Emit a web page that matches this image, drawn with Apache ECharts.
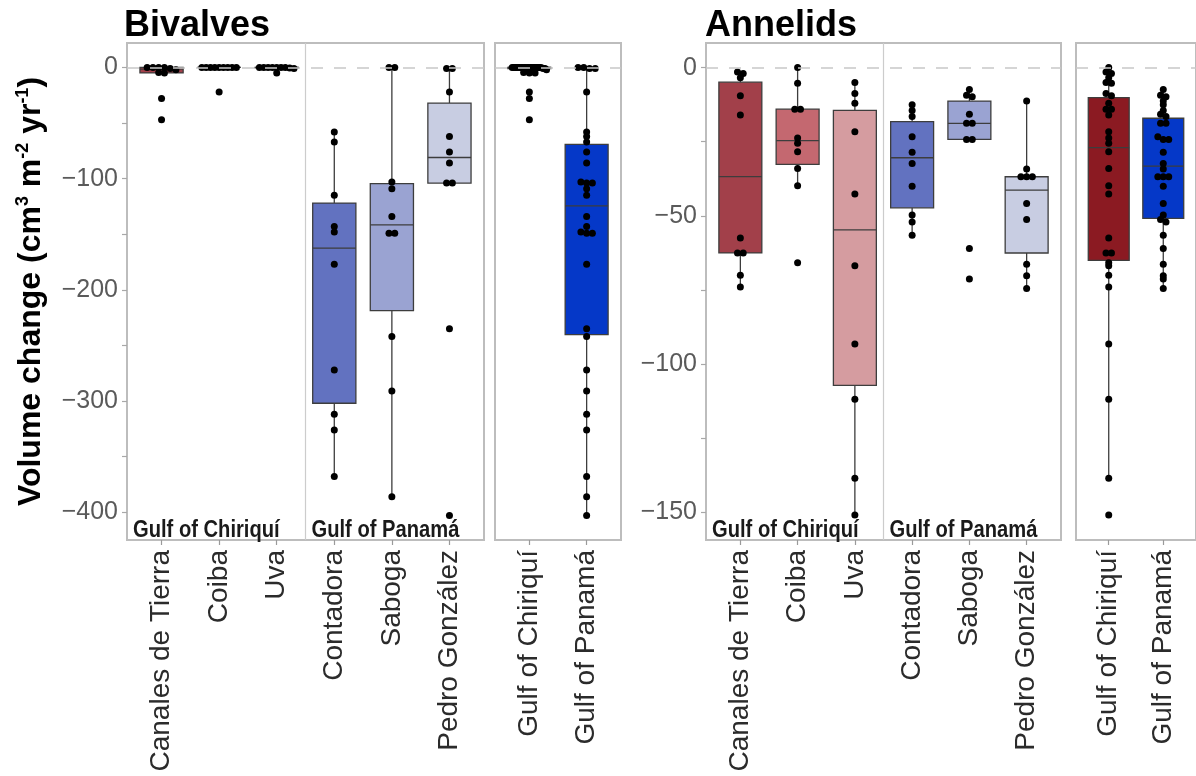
<!DOCTYPE html>
<html>
<head>
<meta charset="utf-8">
<script src="https://cdn.jsdelivr.net/npm/echarts@6/dist/echarts.min.js"></script>
<style>
  html, body { margin: 0; padding: 0; background: #ffffff; }
  #chart { width: 1196px; height: 776px; }
</style>
</head>
<body>
<div id="chart"></div>
<script>
// ---- categories ----
const siteNames = ['Canales de Tierra', 'Coiba', 'Uva', 'Contadora', 'Saboga', 'Pedro González'];
const gulfNames = ['Gulf of Chiriquí', 'Gulf of Panamá'];
const regionLabels = ['Gulf of Chiriquí', 'Gulf of Panamá'];

// ---- bivalve volume change per site (cm3 m-2 yr-1) ----
const bivCanales   = [0, 0, 0, 0, -1, -2, -4.5, -5, -28, -47];
const bivCoiba     = [0, 0, 0, 0, 0, 0, 0, 0, 0, -22];
const bivUva       = [0, 0, 0, 0, 0, 0, 0, -0.5, -1, -5];
const bivContadora = [-58, -67, -115, -143, -148, -177, -272, -312, -326, -368];
const bivSaboga    = [0, 0, -103, -109, -134, -149, -149, -242, -291, -386];
const bivPedro     = [-1, -1, -22, -62, -76, -86, -104, -104, -235, -403];

// ---- annelid volume change per site (cm3 m-2 yr-1) ----
const annCanales   = [-1.5, -2, -3.4, -9.5, -16, -57.5, -62.5, -62.5, -70, -74];
const annCoiba     = [0, -5.3, -14, -14, -23.7, -25.5, -28.4, -34, -39.8, -65.8];
const annUva       = [-5, -8.7, -12, -21.6, -42.6, -66.8, -93.2, -111.8, -138.5, -150.9];
const annContadora = [-12.5, -14.5, -16.5, -23.3, -28.5, -32.3, -40, -49.7, -52.1, -56.5];
const annSaboga    = [-7.4, -9.3, -9.8, -15.7, -18.8, -18.8, -24.2, -24.2, -61, -71.3];
const annPedro     = [-11.3, -34.2, -36.8, -36.8, -36.8, -45.8, -51.2, -66.3, -70.2, -74.5];

// ---- axis ticks and ranges ----
const bivalveTicks = [0, -100, -200, -300, -400];
const bivalveAllTicks = [0, -50, -100, -150, -200, -250, -300, -350, -400];
const bivalveRange = [-425, 22];
const annelidTicks = [0, -50, -100, -150];
const annelidAllTicks = [0, -25, -50, -75, -100, -125, -150];
const annelidRange = [-159.3, 8.3];

// ---- fills ----
const siteColors = ['#a2404a', '#c46870', '#d59ca0', '#6272c0', '#9aa3d2', '#c8cde2'];
const gulfColors = ['#8b1a22', '#0538c8'];

// Site groups and the pooled gulf groups (each gulf pools its three sites)
const bivSites = [bivCanales, bivCoiba, bivUva, bivContadora, bivSaboga, bivPedro];
const annSites = [annCanales, annCoiba, annUva, annContadora, annSaboga, annPedro];
const bivGulfs = [bivSites.slice(0, 3).flat(), bivSites.slice(3).flat()];
const annGulfs = [annSites.slice(0, 3).flat(), annSites.slice(3).flat()];

// Type-7 quantile on a sorted array
function quantile(s, p) {
  const h = (s.length - 1) * p;
  const lo = Math.floor(h);
  const hi = Math.min(lo + 1, s.length - 1);
  return s[lo] + (h - lo) * (s[hi] - s[lo]);
}
// Box statistics with 1.5 IQR whiskers
function boxStats(vals) {
  const s = vals.slice().sort((a, b) => a - b);
  const q1 = quantile(s, 0.25), md = quantile(s, 0.5), q3 = quantile(s, 0.75);
  const iqr = q3 - q1;
  const lo = Math.min(...s.filter(v => v >= q1 - 1.5 * iqr));
  const hi = Math.max(...s.filter(v => v <= q3 + 1.5 * iqr));
  return [lo, q1, md, q3, hi];
}
// Side-by-side placement for dots sharing (almost) the same value
function spreadDots(vals, idx, tol) {
  const s = vals.slice().sort((a, b) => b - a);
  const out = [];
  let i = 0;
  while (i < s.length) {
    let j = i;
    while (j + 1 < s.length && s[j] - s[j + 1] < tol) j++;
    const k = j - i + 1;
    const step = k > 1 ? Math.min(0.1, 0.6 / (k - 1)) : 0;
    for (let m = 0; m < k; m++) out.push([idx + (m - (k - 1) / 2) * step, s[i + m]]);
    i = j + 1;
  }
  return out;
}

const FONT = '"Liberation Sans", Arial, Helvetica, sans-serif';

const grids = [], xAxes = [], yAxes = [], series = [];
const panels = [];

function addPanel(cfg) {
  const gi = grids.length;
  cfg.gridIndex = gi;
  panels.push(cfg);
  const n = cfg.names.length;
  const idxs = cfg.names.map((_, i) => i);
  grids.push({
    left: cfg.left, top: 43, width: cfg.width, height: 497,
    show: true, borderColor: '#bdbdbd', borderWidth: 2, backgroundColor: '#ffffff',
    containLabel: false
  });
  xAxes.push({
    gridIndex: gi, type: 'value', min: -0.6, max: n - 0.4, position: 'bottom',
    axisLine: { show: false, onZero: false }, splitLine: { show: false },
    axisTick: { show: true, customValues: idxs, length: 5, lineStyle: { color: '#9a9a9a', width: 1.2 } },
    axisLabel: {
      customValues: idxs, formatter: v => cfg.names[Math.round(v)],
      rotate: 90, fontSize: 28, color: '#2b2b2b', fontFamily: FONT, margin: 10
    }
  });
  const y = {
    gridIndex: gi, type: 'value', min: cfg.range[0], max: cfg.range[1], position: 'left',
    axisLine: { show: false, onZero: false }, splitLine: { show: false },
    axisTick: { show: cfg.showY, customValues: cfg.allTicks, length: 5, lineStyle: { color: '#a8a8a8', width: 1.2 } },
    axisLabel: {
      show: cfg.showY, customValues: cfg.ticks,
      formatter: v => (v < 0 ? '\u2212' + Math.abs(v) : String(v)),
      fontSize: 25, color: '#5a5a5a', fontFamily: FONT, margin: 9
    }
  };
  if (cfg.yName) {
    y.name = 'Volume change (cm{s|3} m{s|-2} yr{s|-1})';
    y.nameLocation = 'middle';
    y.nameGap = 78;
    y.nameTextStyle = {
      fontSize: 32, fontWeight: 'bold', color: '#000000', fontFamily: FONT,
      rich: { s: { fontSize: 18, fontWeight: 'bold', color: '#000000', fontFamily: FONT, padding: [0, 0, 17, 0] } }
    };
  }
  yAxes.push(y);

  const boxes = cfg.groups.map((g, i) => [i].concat(boxStats(g)).concat([i]));
  series.push({
    type: 'custom', xAxisIndex: gi, yAxisIndex: gi, z: 2, silent: true,
    encode: { x: 0, y: [1, 2, 3, 4, 5] },
    data: boxes,
    renderItem: (params, api) => {
      const x = api.value(0);
      const lo = api.coord([x, api.value(1)]);
      const q1 = api.coord([x, api.value(2)]);
      const md = api.coord([x, api.value(3)]);
      const q3 = api.coord([x, api.value(4)]);
      const hi = api.coord([x, api.value(5)]);
      const w = api.size([0.75, 0])[0];
      const fill = cfg.colors[api.value(6)];
      const stroke = '#3d3d3d';
      return {
        type: 'group',
        children: [
          { type: 'line', shape: { x1: hi[0], y1: hi[1], x2: q3[0], y2: q3[1] }, style: { stroke: stroke, lineWidth: 1.3 } },
          { type: 'line', shape: { x1: q1[0], y1: q1[1], x2: lo[0], y2: lo[1] }, style: { stroke: stroke, lineWidth: 1.3 } },
          { type: 'rect', shape: { x: q3[0] - w / 2, y: q3[1], width: w, height: q1[1] - q3[1] }, style: { fill: fill, stroke: stroke, lineWidth: 1.3 } },
          { type: 'line', shape: { x1: md[0] - w / 2, y1: md[1], x2: md[0] + w / 2, y2: md[1] }, style: { stroke: stroke, lineWidth: 1.3 } }
        ]
      };
    }
  });

  const dots = [];
  cfg.groups.forEach((g, i) => dots.push(...spreadDots(g, i, cfg.tol)));
  series.push({
    type: 'scatter', xAxisIndex: gi, yAxisIndex: gi, z: 3, silent: true,
    symbol: 'circle', symbolSize: 7, itemStyle: { color: '#000000', opacity: 1 },
    data: dots,
    markLine: {
      silent: true, symbol: 'none', label: { show: false },
      data: [{ yAxis: 0, lineStyle: { type: [12, 11], color: '#c8c8c8', width: 1.6 } }]
        .concat(cfg.divider ? [{ xAxis: 2.5, lineStyle: { type: 'solid', color: '#cccccc', width: 1.2 } }] : [])
    }
  });
}

addPanel({ left: 127, width: 357, names: siteNames, groups: bivSites, colors: siteColors,
  range: bivalveRange, ticks: bivalveTicks, allTicks: bivalveAllTicks, showY: true, yName: true, divider: true, tol: 2.5 });
addPanel({ left: 495, width: 126, names: gulfNames, groups: bivGulfs, colors: gulfColors,
  range: bivalveRange, ticks: bivalveTicks, allTicks: bivalveAllTicks, showY: false, divider: false, tol: 2.5 });
addPanel({ left: 706, width: 355, names: siteNames, groups: annSites, colors: siteColors,
  range: annelidRange, ticks: annelidTicks, allTicks: annelidAllTicks, showY: true, divider: true, tol: 1.0 });
addPanel({ left: 1076, width: 127, names: gulfNames, groups: annGulfs, colors: gulfColors,
  range: annelidRange, ticks: annelidTicks, allTicks: annelidAllTicks, showY: false, divider: false, tol: 1.0 });

const chart = echarts.init(document.getElementById('chart'), null, { renderer: 'canvas' });
chart.setOption({
  animation: false,
  backgroundColor: '#ffffff',
  title: [
    { text: 'Bivalves', left: 124, top: 8, padding: 0, textStyle: { fontSize: 36, fontWeight: 'bold', color: '#000000', fontFamily: FONT } },
    { text: 'Annelids', left: 705, top: 8, padding: 0, textStyle: { fontSize: 36, fontWeight: 'bold', color: '#000000', fontFamily: FONT } }
  ],
  grid: grids,
  xAxis: xAxes,
  yAxis: yAxes,
  series: series
});

// Region names inside the site panels, anchored at the bottom-left of each half
// (left edge of the panel and the divider at x = 2.5), set in a condensed bold face.
const regionText = [];
panels.filter(p => p.divider).forEach(p => {
  [-0.6, 2.5].forEach((xv, k) => {
    const pt = chart.convertToPixel({ gridIndex: p.gridIndex }, [xv, p.range[0]]);
    regionText.push({
      type: 'text', x: pt[0] + 6, y: pt[1] + 2, scaleX: 0.84, z: 10, silent: true,
      style: {
        text: regionLabels[k], fill: '#1a1a1a', align: 'left', verticalAlign: 'bottom',
        font: 'bold 24px "Liberation Sans", Arial, sans-serif'
      }
    });
  });
});
chart.setOption({ graphic: regionText });
</script>
</body>
</html>
